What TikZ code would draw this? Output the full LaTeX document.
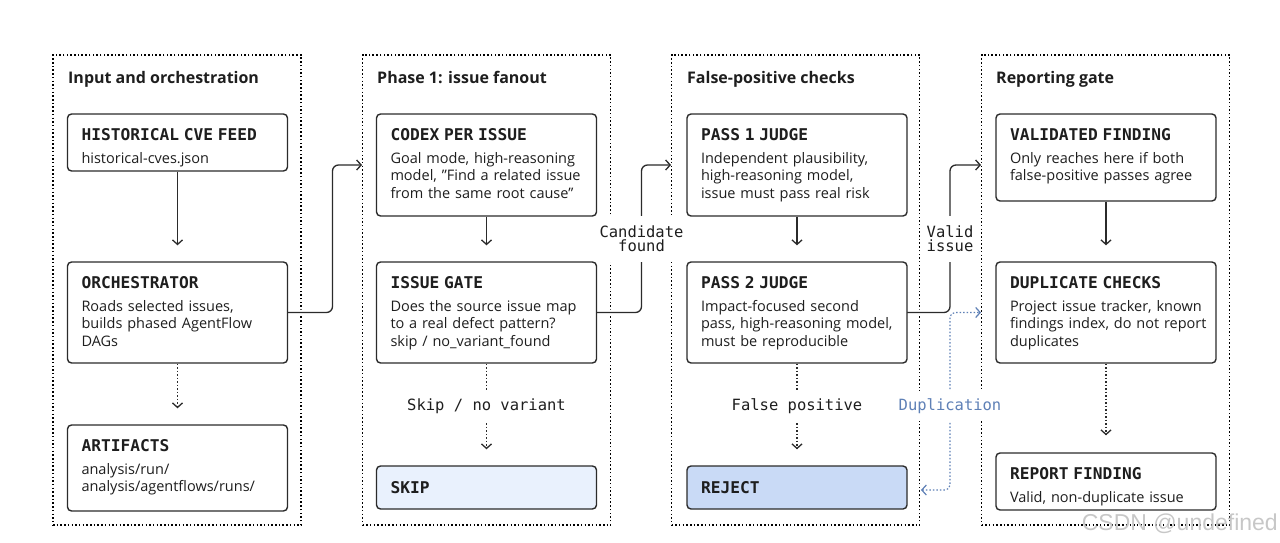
\documentclass[tikz,border=0pt]{standalone}
\usepackage{fontspec}
\setmainfont{Open Sans}
\newfontfamily\monofont{DejaVu Sans Mono}
\newfontfamily\wmfont{Liberation Sans}
\usetikzlibrary{arrows.meta,calc}
\setlength{\parindent}{0pt}
\definecolor{ink}{HTML}{2B2B2B}
\definecolor{txt}{HTML}{1E1E1E}
\definecolor{skipfill}{HTML}{E9F1FD}
\definecolor{rejfill}{HTML}{C9DAF6}
\definecolor{dupblue}{HTML}{5E80B6}
\newcommand\lab{\monofont\bfseries\fontsize{16.2}{17}\selectfont}
\newcommand\bodyf{\fontsize{14.5}{17.7}\selectfont}
\newcommand\titlef{\bfseries\fontsize{16}{19}\selectfont}
\newcommand\edgef{\monofont\fontsize{15.5}{14}\selectfont}
\tikzset{
  colbox/.style={draw=black, line width=1.4pt, dash pattern=on 1.5pt off 2.2pt,
    minimum width=248pt, minimum height=470pt, inner sep=0pt},
  box/.style={draw=ink, line width=1.4pt, rounded corners=4pt, fill=white,
    minimum width=220pt, inner sep=0pt},
  txtnode/.style={anchor=north west, inner sep=0pt, text width=205pt, align=left,
    font=\bodyf, text=txt},
  coltitle/.style={anchor=base west, inner sep=0pt, font=\titlef, text=txt},
  tip/.style={-{Straight Barb[length=4.5pt,width=10pt]}},
  conn/.style={draw=ink, line width=1.3pt, tip},
  dotconn/.style={conn, dash pattern=on 1.5pt off 2pt},
  halo/.style={preaction={draw=white, line width=6pt, shorten <=1pt}},
  elab/.style={fill=white, inner sep=0pt, font=\edgef, text=txt, align=center},
}
\begin{document}
\begin{tikzpicture}[x=1pt,y=-1pt]
\useasboundingbox (0,0) rectangle (1280,543);

% columns
\node[colbox] (C1) at (177,290) {};
\node[colbox] (C2) at (486.5,290) {};
\node[colbox] (C3) at (795.5,290) {};
\node[colbox] (C4) at (1105.5,290) {};

\node[coltitle] (T1) at (68,84) {Input and orchestration};
\node[coltitle] (T2) at (377,84) {Phase 1: issue fanout};
\node[coltitle] (T3) at (687,84) {False-positive checks};
\node[coltitle] (T4) at (996,84) {Reporting gate};

% anchors at column borders
\coordinate (inC) at (362,165);
\coordinate (inP) at (671,165);
\coordinate (inV) at (981,165);

% connectors crossing column borders (drawn below boxes)
\coordinate (oe) at (287.5,312.5);
\coordinate (ge) at (596.5,312.5);
\coordinate (pe) at (907,312.5);
\draw[conn, halo, rounded corners=6pt] (oe) -- ++(45,0) |- (inC);
\draw[conn, halo, rounded corners=6pt] (ge) -- ++(45,0) |- (inP);
\draw[conn, halo, rounded corners=6pt] (pe) -- ++(43,0) |- (inV);
\coordinate (dD) at (981,312.5);
\coordinate (dR) at (921,490);
\draw[dupblue, line width=1.2pt, dash pattern=on 1.5pt off 2pt, rounded corners=5pt,
  {Straight Barb[length=4.5pt,width=10pt]}-{Straight Barb[length=4.5pt,width=10pt]},
  preaction={draw=white, line width=6pt, dash pattern=on 1pt off 0pt}]
  (dR) -- (950,490) -- (950,312.5) -- (dD);

% column 1
\node[box, minimum height=57pt] (H) at (177.5,142.5) {};
\node[box, minimum height=101pt] (O) at (177.5,312.5) {};
\node[box, minimum height=86pt] (A) at (177.5,468) {};
\node[txtnode] (Ht) at ([shift={(14.5pt,-15pt)}]H.north west)
  {{\lab HISTORICAL CVE FEED}\par\vspace{5pt}historical-cves.json};
\node[txtnode] (Ot) at ([shift={(14.5pt,-15pt)}]O.north west)
  {{\lab ORCHESTRATOR}\par\vspace{5pt}Roads selected issues,\par builds phased AgentFlow\par DAGs};
\node[txtnode] (At) at ([shift={(14.5pt,-15pt)}]A.north west)
  {{\lab ARTIFACTS}\par\vspace{5pt}analysis/run/\par analysis/agentflows/runs/};

% column 2
\node[box, minimum height=102pt] (C) at (486.5,165) {};
\node[box, minimum height=101pt] (G) at (486.5,312.5) {};
\node[box, minimum height=43pt, fill=skipfill] (S) at (486.5,487.5) {};
\node[txtnode] (Ct) at ([shift={(14.5pt,-15pt)}]C.north west)
  {{\lab CODEX PER ISSUE}\par\vspace{5pt}Goal mode, high-reasoning\par model, "Find a related issue\par from the same root cause"};
\node[txtnode] (Gt) at ([shift={(14.5pt,-15pt)}]G.north west)
  {{\lab ISSUE GATE}\par\vspace{5pt}Does the source issue map\par to a real defect pattern?\par skip / no\_variant\_found};
\node[anchor=west, inner sep=0pt, text=txt] (St) at ([xshift=14.5pt]S.west) {\lab SKIP};

% column 3
\node[box, minimum height=102pt] (P1) at (797,165) {};
\node[box, minimum height=101pt] (P2) at (797,312.5) {};
\node[box, minimum height=43pt, fill=rejfill] (R) at (797,487.5) {};
\node[txtnode] (P1t) at ([shift={(14.5pt,-15pt)}]P1.north west)
  {{\lab PASS 1 JUDGE}\par\vspace{5pt}Independent plausibility,\par high-reasoning model,\par issue must pass real risk};
\node[txtnode] (P2t) at ([shift={(14.5pt,-15pt)}]P2.north west)
  {{\lab PASS 2 JUDGE}\par\vspace{5pt}Impact-focused second\par pass, high-reasoning model,\par must be reproducible};
\node[anchor=west, inner sep=0pt, text=txt] (Rt) at ([xshift=14.5pt]R.west) {\lab REJECT};

% column 4
\node[box, minimum height=87pt] (V) at (1106,157.5) {};
\node[box, minimum height=101pt] (D) at (1106,312.5) {};
\node[box, minimum height=57pt] (F) at (1106,481.5) {};
\node[txtnode] (Vt) at ([shift={(14.5pt,-15pt)}]V.north west)
  {{\lab VALIDATED FINDING}\par\vspace{5pt}Only reaches here if both\par false-positive passes agree};
\node[txtnode] (Dt) at ([shift={(14.5pt,-15pt)}]D.north west)
  {{\lab DUPLICATE CHECKS}\par\vspace{5pt}Project issue tracker, known\par findings index, do not report\par duplicates};
\node[txtnode] (Ft) at ([shift={(14.5pt,-15pt)}]F.north west)
  {{\lab REPORT FINDING}\par\vspace{5pt}Valid, non-duplicate issue};

% vertical connectors
\draw[conn, shorten >=16pt] (H) -- (O);
\draw[dotconn, shorten >=16pt] (O) -- (A);
\draw[conn, shorten >=16pt] (C) -- (G);
\draw[dotconn, shorten >=16pt] (G) -- (S);
\draw[conn, shorten >=16pt] (P1) -- (P2);
\draw[dotconn, shorten >=16pt] (P2) -- (R);
\draw[conn, shorten >=16pt] (V) -- (D);
\draw[dotconn, shorten >=17pt] (D) -- (F);

% edge labels
\node[elab, minimum height=30pt] (L1) at (486.5,406) {Skip / no variant};
\node[elab, minimum height=30pt] (L2) at (797,406) {False positive};
\node[elab, minimum height=46pt, minimum width=88pt] (L3) at (641.5,238.5) {Candidate\\found};
\node[elab, minimum height=46pt, minimum width=50pt] (L4) at (950,238.5) {Valid\\issue};
\node[elab, minimum height=30pt, text=dupblue] (L5) at (950,406) {Duplication};

% watermark
\node[anchor=base east, inner sep=0pt, text=black!22, font=\wmfont\fontsize{23}{23}\selectfont] (WM) at (1278,530) {CSDN @undefined};
\end{tikzpicture}
\end{document}
